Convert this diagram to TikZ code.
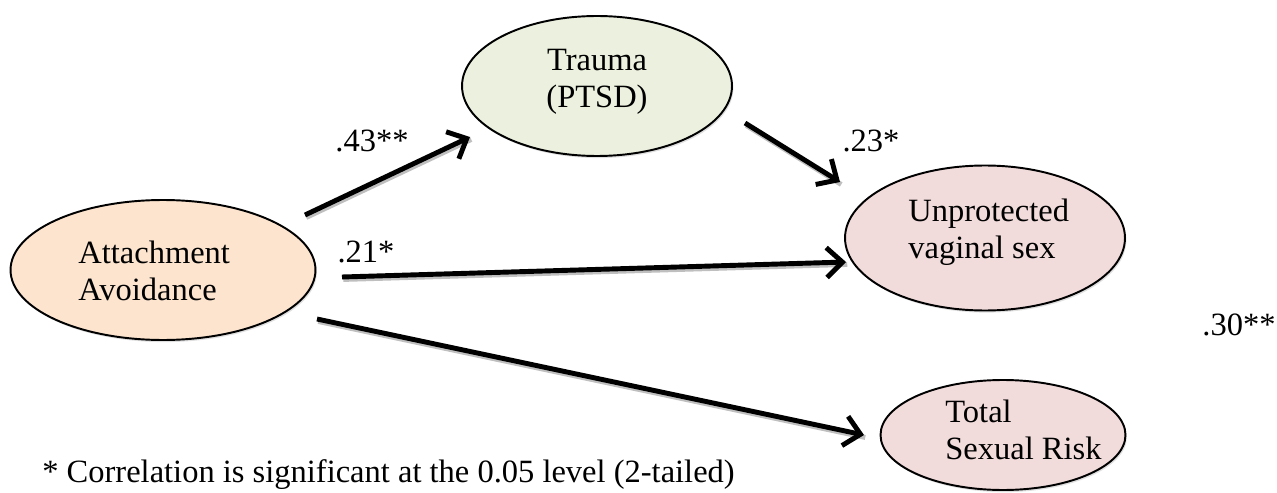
\documentclass[tikz,border=0pt]{standalone}
\usepackage{fontspec}
\setmainfont{Liberation Serif}
\usetikzlibrary{shapes.geometric,arrows.meta,shadows}
\definecolor{traumafill}{HTML}{EBF1DE}
\definecolor{attfill}{HTML}{FCE4CF}
\definecolor{riskfill}{HTML}{F2DCDB}
\begin{document}
\begin{tikzpicture}[x=0.02cm,y=-0.02cm,
  lbl/.style={font=\fontsize{18.5}{21}\selectfont, inner sep=0pt},
  blob/.style={ellipse, draw=black, line width=1.1pt, inner sep=0pt,
    drop shadow={opacity=0.25, shadow xshift=0.8pt, shadow yshift=-1.2pt}},
  path/.style={line width=2.8pt, -{Straight Barb[length=9pt,width=17pt,line width=2.8pt]},
    preaction={draw=black!25, line width=2.8pt, -, transform canvas={shift={(0.7pt,-1.4pt)}}}},
]
\useasboundingbox (0,0) rectangle (1277,493);
% ellipses
\node[blob, fill=traumafill, minimum width=5.4cm, minimum height=2.8cm] (tr) at (597,86) {};
\node[blob, fill=attfill, minimum width=6.1cm, minimum height=2.8cm] (att) at (163,270) {};
\node[blob, fill=riskfill, minimum width=5.6cm, minimum height=2.9cm] (uvs) at (985,238) {};
\node[blob, fill=riskfill, minimum width=4.9cm, minimum height=2.2cm] (tsr) at (1003,435) {};
% texts
\node[lbl, align=center] (trt) at (597,82) {Trauma\\(PTSD)};
\node[lbl, align=left, anchor=west] (attt) at (78,271) {Attachment\\Avoidance};
\node[lbl, align=left, anchor=west] (uvst) at (908,232) {Unprotected\\vaginal sex};
\node[lbl, align=left, anchor=west] (tsrt) at (945,430) {Total\\Sexual Risk};
% coefficient labels
\node[lbl, anchor=base] (l43) at (372,152) {.43**};
\node[lbl, anchor=base] (l23) at (871,152) {.23*};
\node[lbl, anchor=base] (l21) at (366,262) {.21*};
\node[lbl, anchor=base] (l30) at (1239,335) {.30**};
\node[lbl, anchor=base west] (foot) at (42,482) {* Correlation is significant at the 0.05 level (2-tailed)};
% connector ends
\coordinate (a1) at (305,215);
\coordinate (t1) at (470,137);
\coordinate (t2) at (745,123);
\coordinate (u1) at (840,182);
\coordinate (a2) at (342,277);
\coordinate (u2) at (846,262);
\coordinate (a3) at (317,319);
\coordinate (s1) at (864,435);
\draw[path] (a1) -- (t1);
\draw[path] (t2) -- (u1);
\draw[path] (a2) -- (u2);
\draw[path] (a3) -- (s1);
\end{tikzpicture}
\end{document}
